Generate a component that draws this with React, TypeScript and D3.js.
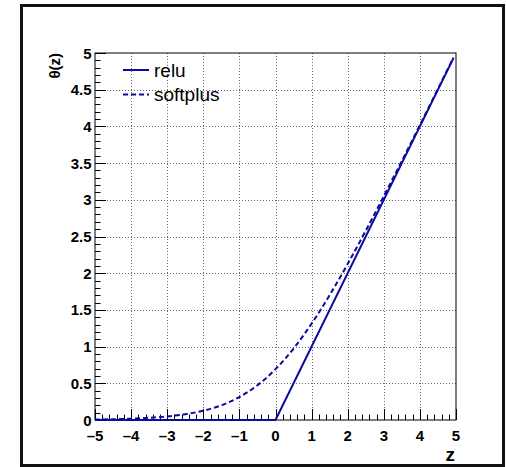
import * as d3 from 'd3';
import { useEffect, useRef } from 'react';

const zSamples = [-5, -4.5, -4, -3.5, -3, -2.5, -2, -1.5, -1, -0.5, 0, 0.5, 1, 1.5, 2, 2.5, 3, 3.5, 4, 4.5, 4.93];
const softplusValues = [0.007, 0.011, 0.018, 0.03, 0.049, 0.079, 0.127, 0.201, 0.313, 0.474, 0.693, 0.974, 1.313, 1.701, 2.127, 2.579, 3.049, 3.53, 4.018, 4.511, 4.937];
const reluZ = [-5, 0, 4.93];
const reluValues = [0, 0, 4.93];

const xTicks = [-5, -4, -3, -2, -1, 0, 1, 2, 3, 4, 5];
const yTicks = [0, 0.5, 1, 1.5, 2, 2.5, 3, 3.5, 4, 4.5, 5];
const legendLabels = ['relu', 'softplus'];

const W = 506;
const H = 467;
const LINE = '#0a0aa0';

export default function App() {
  const svgRef = useRef<SVGSVGElement>(null);

  useEffect(() => {
    if (!svgRef.current) return;
    const svg = d3.select(svgRef.current);
    svg.selectAll('*').remove();

    const left = 95, right = 456, top = 53, bottom = 420;

    const x = d3.scaleLinear().domain([-5, 5]).range([left, right]);
    const y = d3.scaleLinear().domain([0, 5]).range([bottom, top]);

    svg.append('rect').attr('width', W).attr('height', H).attr('fill', '#fff');
    // canvas border
    svg.append('rect')
      .attr('x', 21.5).attr('y', 5.5).attr('width', 482).attr('height', 460)
      .attr('fill', 'none').attr('stroke', '#111').attr('stroke-width', 3);

    // grid
    const grid = svg.append('g').attr('stroke', '#666').attr('stroke-width', 1)
      .attr('stroke-dasharray', '1,2');
    xTicks.slice(1, -1).forEach((t) => {
      grid.append('line')
        .attr('x1', Math.round(x(t)) + 0.5).attr('x2', Math.round(x(t)) + 0.5)
        .attr('y1', top).attr('y2', bottom);
    });
    yTicks.slice(1, -1).forEach((t) => {
      grid.append('line')
        .attr('y1', Math.round(y(t)) + 0.5).attr('y2', Math.round(y(t)) + 0.5)
        .attr('x1', left).attr('x2', right);
    });

    // ticks (pointing inward)
    const ticks = svg.append('g').attr('stroke', '#000').attr('stroke-width', 1);
    d3.range(-5, 5.001, 0.2).forEach((t) => {
      const major = Math.abs(t - Math.round(t)) < 1e-6;
      const px = Math.round(x(t)) + 0.5;
      ticks.append('line').attr('x1', px).attr('x2', px)
        .attr('y1', bottom).attr('y2', bottom - (major ? 11 : 5.5));
    });
    d3.range(0, 5.001, 0.1).forEach((t) => {
      const major = Math.abs(t * 2 - Math.round(t * 2)) < 1e-6;
      const py = Math.round(y(t)) + 0.5;
      ticks.append('line').attr('y1', py).attr('y2', py)
        .attr('x1', left).attr('x2', left + (major ? 11 : 5.5));
    });

    // frame
    svg.append('rect')
      .attr('x', left).attr('y', top).attr('width', right - left).attr('height', bottom - top)
      .attr('fill', 'none').attr('stroke', '#000').attr('stroke-width', 1);

    // curves
    const line = d3.line<[number, number]>()
      .x((d) => x(d[0])).y((d) => y(d[1]));
    svg.append('path')
      .datum(zSamples.map((z, i) => [z, softplusValues[i]] as [number, number]))
      .attr('d', line.curve(d3.curveMonotoneX))
      .attr('fill', 'none').attr('stroke', LINE).attr('stroke-width', 2)
      .attr('stroke-dasharray', '5,3');
    svg.append('path')
      .datum(reluZ.map((z, i) => [z, reluValues[i]] as [number, number]))
      .attr('d', d3.line<[number, number]>().x((d) => x(d[0])).y((d) => y(d[1])))
      .attr('fill', 'none').attr('stroke', LINE).attr('stroke-width', 2);

    // tick labels
    const font = 'Liberation Sans, Arial, Helvetica, sans-serif';
    svg.append('g').selectAll('text').data(xTicks).join('text')
      .attr('x', (d) => x(d)).attr('y', 441)
      .attr('text-anchor', 'middle')
      .attr('font-family', font).attr('font-weight', 'bold').attr('font-size', 15)
      .text((d) => (d < 0 ? '\u2013' + Math.abs(d) : String(d)));
    svg.append('g').selectAll('text').data(yTicks).join('text')
      .attr('x', 91.5).attr('y', (d) => y(d) + 5.5)
      .attr('text-anchor', 'end')
      .attr('font-family', font).attr('font-weight', 'bold').attr('font-size', 15)
      .text((d) => String(d));

    // axis titles
    svg.append('text').attr('x', 455).attr('y', 461).attr('text-anchor', 'end')
      .attr('font-family', font).attr('font-weight', 'bold').attr('font-size', 19)
      .text('z');
    svg.append('text')
      .attr('transform', 'translate(60,53) rotate(-90)')
      .attr('text-anchor', 'end')
      .attr('font-family', font).attr('font-weight', 'bold').attr('font-size', 15)
      .text('\u03b8(z)');

    // legend
    const leg = svg.append('g');
    legendLabels.forEach((label, i) => {
      const ly = 70 + i * 24.5;
      leg.append('line')
        .attr('x1', 123).attr('x2', 149).attr('y1', ly).attr('y2', ly)
        .attr('stroke', LINE).attr('stroke-width', 2)
        .attr('stroke-dasharray', i === 1 ? '5,3' : null);
      leg.append('text').attr('x', 154).attr('y', ly + 6.5)
        .attr('font-family', font).attr('font-size', 19)
        .text(label);
    });
  }, []);

  return (
    <svg
      ref={svgRef}
      width={W}
      height={H}
      style={{ position: 'absolute', left: 0, top: 0, display: 'block' }}
    />
  );
}
